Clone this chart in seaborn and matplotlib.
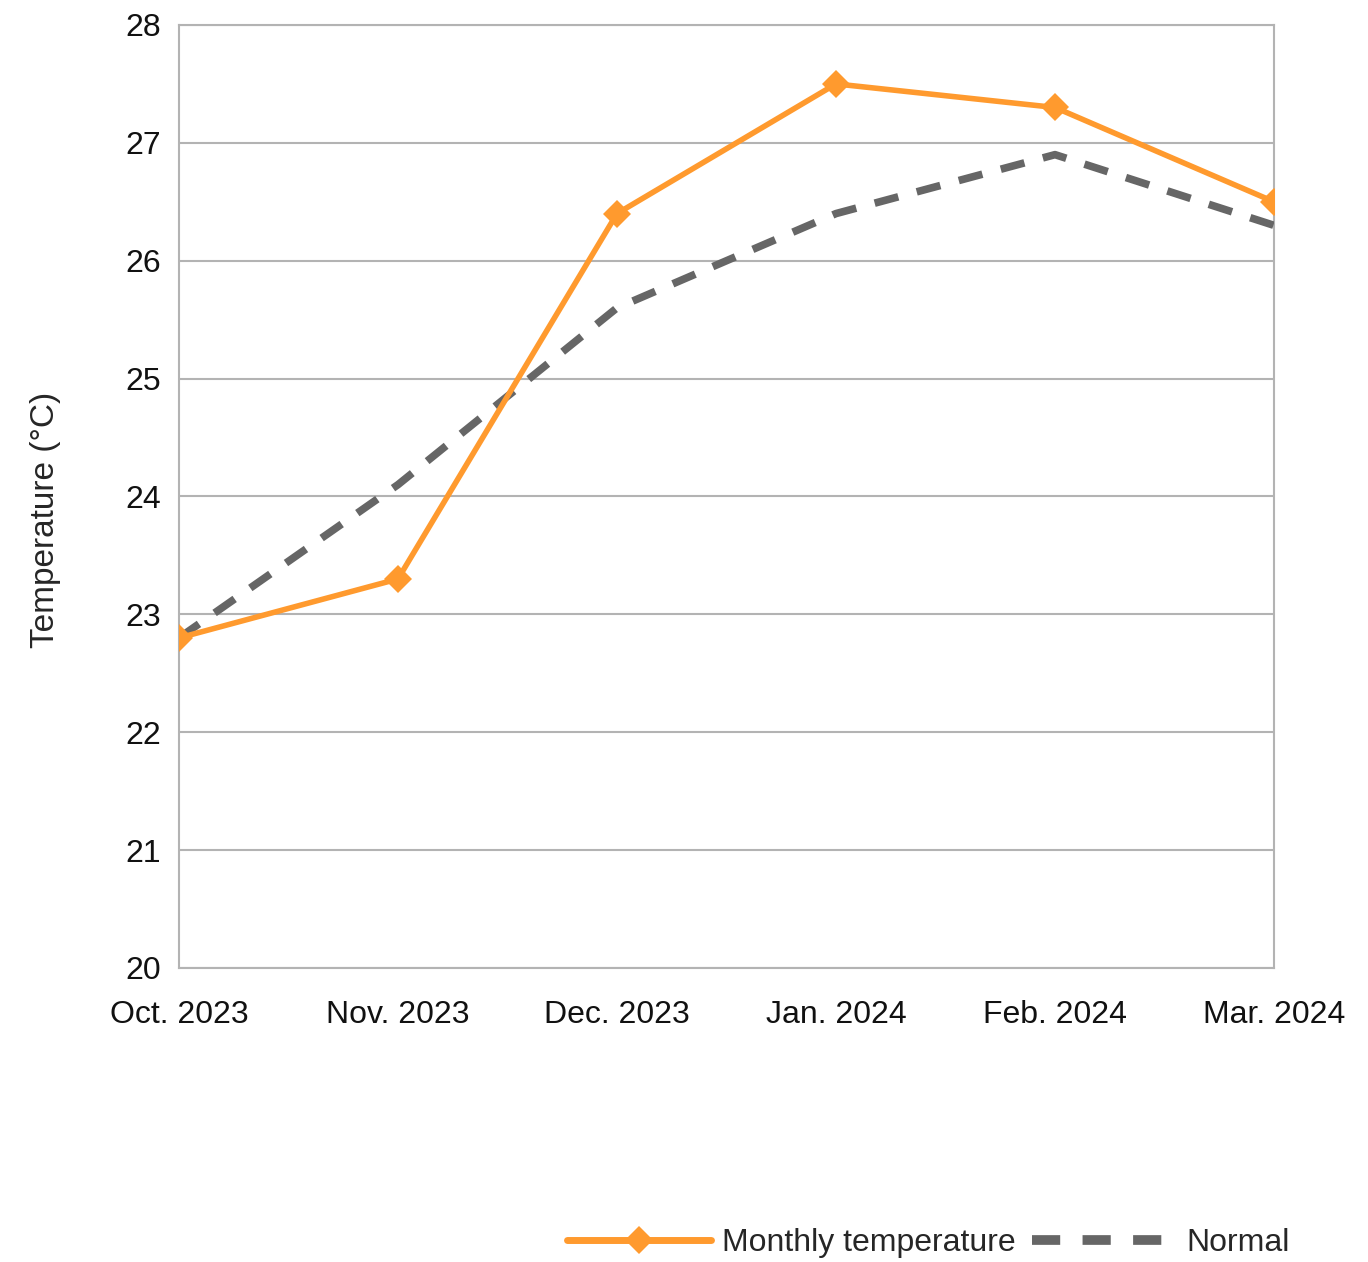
import pandas as pd
import seaborn as sns
import matplotlib.pyplot as plt
from matplotlib.lines import Line2D

months = ["Oct. 2023", "Nov. 2023", "Dec. 2023", "Jan. 2024", "Feb. 2024", "Mar. 2024"]
monthly_temp = [22.8, 23.3, 26.4, 27.5, 27.3, 26.5]
normal_temp = [22.8, 24.1, 25.6, 26.4, 26.9, 26.3]
y_ticks = [20, 21, 22, 23, 24, 25, 26, 27, 28]

orange = "#ff9a2e"
grey = "#666666"

sns.set_style("white")
plt.rcParams["font.family"] = ["Liberation Sans Narrow", "Liberation Sans", "DejaVu Sans"]

df = pd.DataFrame({"Month": months, "Monthly": monthly_temp, "Normal": normal_temp})
df["x"] = range(len(months))

fig = plt.figure(figsize=(13.68, 12.62), dpi=100)
ax = fig.add_axes([0.1308, 0.233, 0.8005, 0.7472])

# dashed normal line under the monthly series
sns.lineplot(data=df, x="x", y="Normal", ax=ax, color=grey, linewidth=5.5,
             linestyle=(0, (3.2, 2.5)), dash_capstyle="butt", zorder=3)
sns.lineplot(data=df, x="x", y="Monthly", ax=ax, color=orange, linewidth=4,
             marker="D", markersize=14, markeredgewidth=0, zorder=4)

ax.set_xlim(0, len(months) - 1)
ax.set_ylim(20, 28)
ax.set_yticks(y_ticks)
ax.set_xticks(df["x"])
ax.set_xticklabels(months)
ax.grid(axis="y", color="#b3b3b3", linewidth=1.5)
ax.set_axisbelow(True)
for s in ax.spines.values():
    s.set_color("#b3b3b3")
    s.set_linewidth(1.5)
ax.tick_params(axis="both", length=11, width=1.5, color="#b3b3b3", labelsize=23, pad=2)
ax.tick_params(axis="x", pad=12)
for lbl in ax.get_xticklabels() + ax.get_yticklabels():
    lbl.set_color("#111111")
ax.set_xlabel("")
ax.set_ylabel("Temperature (°C)", fontsize=24, family=["Liberation Sans", "DejaVu Sans"])
ax.yaxis.set_label_coords(-0.108, 0.475)

handles = [
    Line2D([], [], color=orange, linewidth=5, marker="D", markersize=14, markeredgewidth=0),
    Line2D([], [], color=grey, linewidth=7, linestyle=(0, (2.9, 2.3)), dash_capstyle="butt"),
]
fig.legend(handles, ["Monthly temperature", "Normal"], loc="center right",
           bbox_to_anchor=(0.964, 0.015), ncol=2, frameon=False, fontsize=23,
           handlelength=4.5, handletextpad=0.35, columnspacing=0.5)

fig.savefig("out.png", dpi=100)
